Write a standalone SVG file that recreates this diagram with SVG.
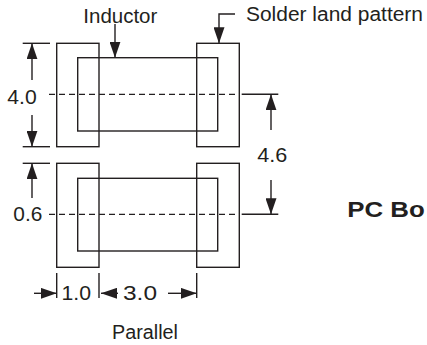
<svg xmlns="http://www.w3.org/2000/svg" width="427" height="345" viewBox="0 0 427 345">
<style>
.ln{fill:none;stroke:#231f20;stroke-width:1.4}
.dash{fill:none;stroke:#231f20;stroke-width:1.3;stroke-dasharray:6 4}
.ar{fill:none;stroke:#231f20;stroke-width:1.4;marker-end:url(#ah)}
.t{font-family:"Liberation Sans",Arial,sans-serif;font-size:20px;fill:#231f20}
.b{font-family:"Liberation Sans",Arial,sans-serif;font-size:22px;font-weight:bold;fill:#231f20}
</style>
<defs>
<marker id="ah" markerUnits="userSpaceOnUse" markerWidth="16" markerHeight="11" refX="16" refY="5.5" orient="auto">
<path d="M0,0 L16,5.5 L0,11 z" fill="#231f20"/>
</marker>
</defs>
<rect width="427" height="345" fill="#fff"/>
<g id="top-inductor"><rect class="ln" x="77.7" y="57.7" width="140" height="73.3"/></g>
<g id="top-left-pad"><rect class="ln" x="56.7" y="43.3" width="42.3" height="103.4"/></g>
<g id="top-right-pad"><rect class="ln" x="196.7" y="43.3" width="42.6" height="103.4"/></g>
<g id="bottom-inductor"><rect class="ln" x="77.7" y="178.3" width="140" height="72.7"/></g>
<g id="bottom-left-pad"><rect class="ln" x="56.7" y="163.3" width="42.3" height="104"/></g>
<g id="bottom-right-pad"><rect class="ln" x="196.7" y="163.3" width="42.6" height="104"/></g>
<g id="connectors">
<line class="dash" x1="49" y1="94.3" x2="240" y2="94.3"/>
<line class="ln" x1="241.7" y1="94.3" x2="278.3" y2="94.3"/>
<line class="dash" x1="49" y1="214.3" x2="240" y2="214.3"/>
<line class="ln" x1="241.7" y1="214.3" x2="278.3" y2="214.3"/>
<line class="ln" x1="22.7" y1="43.3" x2="50" y2="43.3"/>
<line class="ln" x1="22.7" y1="146.7" x2="50" y2="146.7"/>
<line class="ln" x1="22.7" y1="163.3" x2="50" y2="163.3"/>
<line class="ar" x1="32" y1="80" x2="32" y2="43.3"/>
<line class="ar" x1="32" y1="115" x2="32" y2="146.7"/>
<line class="ar" x1="32" y1="198" x2="32" y2="163.3"/>
<line class="ar" x1="271" y1="130" x2="271" y2="94.3"/>
<line class="ar" x1="271" y1="180" x2="271" y2="214.3"/>
<line class="ln" x1="56.7" y1="273" x2="56.7" y2="298"/>
<line class="ln" x1="99" y1="273" x2="99" y2="298"/>
<line class="ln" x1="196.7" y1="273" x2="196.7" y2="298"/>
<line class="ar" x1="34" y1="293.3" x2="56.7" y2="293.3"/>
<line class="ar" x1="118" y1="293.3" x2="101" y2="293.3"/>
<line class="ar" x1="168" y1="293.3" x2="196.7" y2="293.3"/>
<line class="ar" x1="115" y1="24" x2="115" y2="57.7"/>
<polyline class="ln" points="235,14 219,14 219,30"/>
<line class="ar" x1="219" y1="29" x2="219" y2="43.3"/>
</g>
<g id="labels">
<text class="t" x="83.3" y="23" textLength="74" lengthAdjust="spacingAndGlyphs">Inductor</text>
<text class="t" x="246" y="20.5" textLength="177" lengthAdjust="spacingAndGlyphs">Solder land pattern</text>
<text class="t" x="7.3" y="104" textLength="29.4" lengthAdjust="spacingAndGlyphs">4.0</text>
<text class="t" x="13.3" y="221" textLength="29" lengthAdjust="spacingAndGlyphs">0.6</text>
<text class="t" x="257.3" y="162.3" textLength="30" lengthAdjust="spacingAndGlyphs">4.6</text>
<text class="t" x="61.5" y="300" textLength="29.5" lengthAdjust="spacingAndGlyphs">1.0</text>
<text class="t" x="123" y="300" textLength="34" lengthAdjust="spacingAndGlyphs">3.0</text>
<text class="t" x="112" y="339" textLength="66" lengthAdjust="spacingAndGlyphs">Parallel</text>
<text class="b" x="347.3" y="216.7" textLength="77.5" lengthAdjust="spacingAndGlyphs">PC Bo</text>
</g>
</svg>
